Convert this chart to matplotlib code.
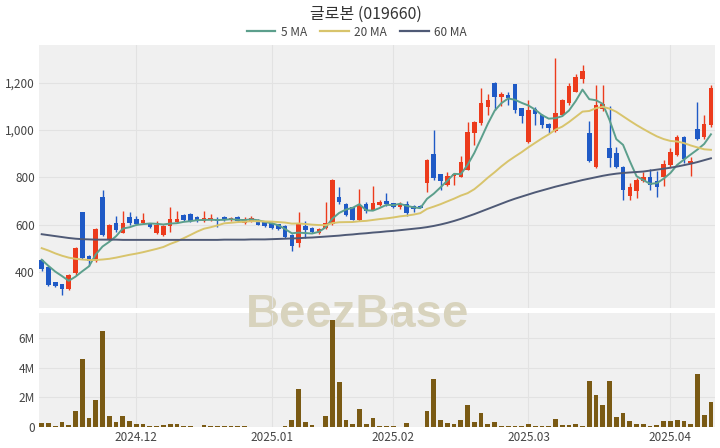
import numpy as np
import pandas as pd
import matplotlib
matplotlib.use('Agg')
import matplotlib.pyplot as plt
from matplotlib.patches import Rectangle
from matplotlib.lines import Line2D
from matplotlib.ticker import FuncFormatter

plt.rcParams['font.family'] = ['Noto Sans CJK KR', 'DejaVu Sans']

# === DATOS ===
TITULO = '글로본 (019660)'

open_ = [448, 420, 356, 348, 327, 394, 652, 466, 444, 716,
         537, 607, 566, 630, 622, 607, 606, 562, 556, 592,
         610, 641, 646, 630, 613, 617, 625, 632, 618, 632,
         606, 614, 620, 610, 607, 601, 593, 556, 521, 595,
         584, 565, 585, 604, 716, 687, 672, 620, 687, 662,
         683, 701, 690, 676, 687, 680, 680, 775, 897, 813,
         767, 806, 803, 831, 986, 1028, 1095, 1200, 1141, 1148,
         1192, 1091, 948, 1088, 1063, 1027, 996, 1063, 1113, 1162,
         1214, 986, 845, 1088, 922, 901, 844, 722, 742, 782,
         800, 785, 800, 852, 896, 972, 858, 1002, 970, 1019]
high = [455, 425, 358, 350, 390, 504, 655, 470, 584, 744,
        603, 637, 658, 655, 637, 648, 608, 615, 599, 676,
        659, 643, 648, 637, 656, 646, 630, 638, 630, 635,
        631, 634, 622, 612, 609, 603, 596, 560, 655, 613,
        588, 586, 697, 792, 760, 690, 675, 749, 697, 763,
        705, 735, 692, 697, 701, 682, 682, 876, 1000, 815,
        824, 816, 890, 1035, 1037, 1176, 1150, 1203, 1160, 1160,
        1195, 1094, 1128, 1098, 1066, 1030, 1303, 1130, 1197, 1236,
        1274, 1037, 1190, 1188, 1100, 929, 846, 776, 795, 824,
        835, 828, 873, 922, 980, 976, 887, 1120, 1063, 1190]
low = [405, 342, 336, 300, 325, 387, 454, 425, 440, 550,
       530, 570, 563, 600, 599, 603, 586, 559, 552, 570,
       606, 614, 612, 611, 610, 615, 588, 615, 615, 610,
       603, 611, 596, 589, 583, 576, 545, 489, 507, 542,
       566, 558, 583, 600, 687, 634, 618, 613, 648, 660,
       680, 680, 669, 666, 634, 655, 668, 739, 789, 744,
       763, 765, 800, 829, 937, 1021, 1063, 1084, 1100, 1105,
       1073, 1030, 945, 1021, 1010, 988, 993, 1060, 1105, 1160,
       1200, 866, 838, 1080, 845, 840, 704, 704, 711, 778,
       748, 718, 762, 845, 890, 862, 803, 958, 960, 1014]
close = [412, 345, 338, 328, 387, 500, 458, 444, 579, 554,
         600, 575, 607, 606, 603, 617, 589, 600, 592, 622,
         625, 617, 615, 613, 627, 628, 613, 618, 627, 613,
         623, 628, 599, 592, 586, 579, 548, 510, 605, 577,
         570, 583, 606, 789, 697, 641, 620, 683, 659, 690,
         697, 687, 676, 687, 648, 666, 669, 873, 796, 782,
         806, 814, 866, 993, 1035, 1112, 1125, 1140, 1153, 1135,
         1084, 1060, 1084, 1066, 1021, 1007, 1070, 1127, 1185, 1222,
         1248, 867, 1105, 1108, 880, 845, 746, 760, 789, 800,
         765, 760, 855, 908, 972, 876, 868, 960, 1027, 1176]
volumen_m = [0.25, 0.25, 0.07, 0.36, 0.16, 1.1, 4.56, 0.61, 1.84, 6.49,
             0.72, 0.34, 0.74, 0.38, 0.18, 0.18, 0.05, 0.05, 0.13, 0.2,
             0.18, 0.09, 0.05, 0.03, 0.13, 0.05, 0.07, 0.07, 0.05, 0.09,
             0.09, 0.03, 0.03, 0.02, 0.02, 0.03, 0.09, 0.47, 2.56, 0.34,
             0.11, 0.03, 0.72, 7.26, 3.06, 0.47, 0.22, 1.21, 0.18, 0.58,
             0.09, 0.09, 0.07, 0.02, 0.29, 0.02, 0.02, 1.1, 3.24, 0.45,
             0.25, 0.2, 0.47, 1.48, 0.36, 0.92, 0.2, 0.31, 0.09, 0.07,
             0.1, 0.1, 0.2, 0.04, 0.04, 0.04, 0.52, 0.13, 0.13, 0.22,
             0.1, 3.08, 2.13, 1.5, 3.08, 0.67, 0.94, 0.4, 0.19, 0.19,
             0.09, 0.12, 0.42, 0.42, 0.45, 0.42, 0.18, 3.6, 0.83, 1.69]
# medias al inicio (necesitan historia previa, se leen del gráfico)
ma5_inicio = [451, 425, 401, 382]
ma20_inicio = [500, 490, 478, 468, 460, 455, 452, 450, 450, 452,
               455, 460, 466, 472, 477, 483, 490, 497, 505]
ma60 = [559, 555, 551, 547, 543, 540, 538, 537, 536, 536,
        536, 536, 535, 535, 535, 535, 535, 535, 535, 535,
        535, 535, 535, 535, 535, 535, 535, 536, 536, 536,
        536, 537, 537, 537, 538, 539, 540, 541, 542, 544,
        545, 547, 549, 551, 553, 556, 558, 561, 563, 566,
        568, 571, 573, 576, 579, 582, 585, 589, 594, 600,
        607, 615, 624, 634, 644, 655, 666, 677, 688, 699,
        709, 718, 727, 736, 744, 752, 760, 767, 774, 781,
        788, 794, 800, 806, 811, 815, 818, 820, 822, 824,
        828, 832, 836, 840, 845, 851, 857, 864, 872, 880]
ticks_pos = [14, 34, 52, 72, 93]
ticks_txt = ['2024.12', '2025.01', '2025.02', '2025.03', '2025.04']

# === PREPARAR ===
df = pd.DataFrame({'open': open_, 'high': high, 'low': low, 'close': close})
df['vol'] = np.array(volumen_m) * 1e6
ma5 = df['close'].rolling(5).mean().values
ma5[:len(ma5_inicio)] = ma5_inicio
ma20 = df['close'].rolling(20).mean().values
ma20[:len(ma20_inicio)] = ma20_inicio
x = np.arange(len(df))

ROJO = '#ec3b1c'
AZUL = '#1f5ac6'
FONDO = '#f0f0f0'
REJILLA = '#e2e2e2'

fig = plt.figure(figsize=(7.2, 4.48), dpi=100)
W, H = 720, 448
ax = fig.add_axes([39 / W, 140 / H, 676 / W, 263 / H])
axv = fig.add_axes([39 / W, 21 / H, 676 / W, 114 / H])

# fondos a nivel figura para que la marca de agua quede debajo de las velas
for a in (ax, axv):
    a.set_facecolor('none')
    p = a.get_position()
    fig.patches.append(Rectangle((p.x0, p.y0), p.width, p.height, transform=fig.transFigure,
                                 facecolor=FONDO, edgecolor='none', zorder=-10))
fig.text(358 / W, 1 - 327 / H, 'BeezBase', fontsize=34, fontweight='bold',
         family='Liberation Sans', color='#d8d3bd', ha='center', va='baseline', zorder=-5)

# === VELAS ===
sube = df['close'] >= df['open']
colores = np.where(sube, ROJO, AZUL)
cuerpo_bajo = np.minimum(df['open'], df['close'])
cuerpo_alto = np.maximum(df['open'], df['close'])
ax.vlines(x, df['low'], df['high'], colors=colores, linewidth=1.0, zorder=2)
ax.bar(x, np.maximum(cuerpo_alto - cuerpo_bajo, 3), bottom=cuerpo_bajo, width=0.68,
       color=colores, linewidth=0, zorder=3)

ax.plot(x, ma5, color='#5c9f8c', lw=1.4, zorder=4)
ax.plot(x, ma20, color='#d8c46c', lw=1.4, zorder=4)
ax.plot(x, ma60, color='#4f5a76', lw=1.4, zorder=4)

ax.set_xlim(-0.4, 99.6)
ax.set_ylim(247, 1359)
ax.set_yticks([400, 600, 800, 1000, 1200])
ax.yaxis.set_major_formatter(FuncFormatter(lambda v, _: f'{int(v):,}'))
ax.set_xticks(ticks_pos)
ax.set_xticklabels([])

# === VOLUMEN ===
axv.bar(x, df['vol'], width=0.7, color='#7a5a14', linewidth=0, zorder=3)
axv.set_xlim(-0.4, 99.6)
axv.set_ylim(0, 7.7e6)
axv.set_yticks([0, 2e6, 4e6, 6e6])
axv.yaxis.set_major_formatter(FuncFormatter(lambda v, _: '0' if v == 0 else f'{int(v / 1e6)}M'))
axv.set_xticks(ticks_pos)
axv.set_xticklabels(ticks_txt)

for a in (ax, axv):
    a.grid(True, color=REJILLA, linewidth=0.8, zorder=0)
    a.set_axisbelow(True)
    for s in a.spines.values():
        s.set_visible(False)
    a.tick_params(length=0, labelsize=8.5, labelcolor='#444444', pad=3)

# === TITULO Y LEYENDA ===
fig.text(366 / W, 1 - 14 / H, TITULO, ha='center', va='center', fontsize=11.5, color='#333333')
lineas = [Line2D([], [], color='#5c9f8c', lw=1.6),
          Line2D([], [], color='#d8c46c', lw=1.6),
          Line2D([], [], color='#4f5a76', lw=1.6)]
fig.legend(lineas, ['5 MA', '20 MA', '60 MA'], loc='center', bbox_to_anchor=(357 / W, 1 - 32 / H),
           ncol=3, frameon=False, fontsize=8.5, handlelength=2.4, columnspacing=1.1,
           handletextpad=0.5, labelcolor='#444444')

fig.savefig('out.png', dpi=100)
